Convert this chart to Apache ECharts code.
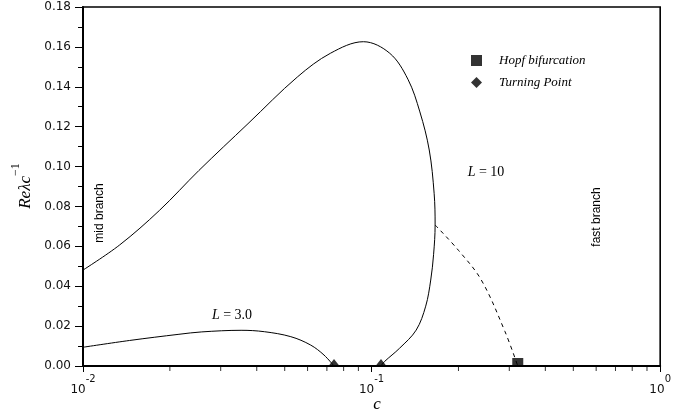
<!DOCTYPE html>
<html>
<head>
<meta charset="utf-8">
<script src="https://cdn.jsdelivr.net/npm/echarts@6/dist/echarts.min.js"></script>
<style>html,body{margin:0;padding:0;background:#fff}#c{width:674px;height:414px}</style>
</head>
<body>
<div id="c"></div>
<script>
// ---- data ----
const curveL10 = [[0.0100,0.0481],[0.0134,0.0607],[0.0184,0.0780],[0.0252,0.0980],[0.0373,0.1215],[0.0553,0.1449],[0.0720,0.1568],[0.0937,0.1626],[0.1156,0.1568],[0.1336,0.1438],[0.1470,0.1274],[0.1584,0.1083],[0.1647,0.0866],[0.1660,0.0707],[0.1640,0.0560],[0.1603,0.0431],[0.1540,0.0300],[0.1427,0.0180],[0.1250,0.0089],[0.1108,0.0022],[0.1078,0.0000]];
const curveL3 = [[0.0100,0.0094],[0.0145,0.0128],[0.0215,0.0159],[0.0258,0.0171],[0.0353,0.0179],[0.0425,0.0172],[0.0525,0.0147],[0.0615,0.0105],[0.0684,0.0055],[0.0741,0.0000]];
const dashedL10 = [[0.1660,0.0707],[0.2000,0.0580],[0.2400,0.0431],[0.2900,0.0172],[0.3210,0.0000]];
const hopfPoints = [[0.3210,0]];
const turningPoints = [[0.0741,0],[0.1078,0]];
const xMinorTicks = [0.02,0.03,0.04,0.05,0.06,0.07,0.08,0.09,0.2,0.3,0.4,0.5,0.6,0.7,0.8,0.9];
const yMin = 0, yMax = 0.18, yStep = 0.02;
const xMin = 0.01, xMax = 1;

const chart = echarts.init(document.getElementById('c'), null, {renderer:'canvas'});
const black = '#000';
const serif = '"Liberation Serif", "DejaVu Serif", serif';
const sans = '"DejaVu Sans", sans-serif';

chart.setOption({
  animation: false,
  backgroundColor: '#fff',
  grid: {left: 83, right: 7, top: 7, bottom: 48, show: true, borderColor: black, borderWidth: 1.6, containLabel: false},
  legend: {
    orient: 'vertical', left: 466, top: 49, itemWidth: 11, itemHeight: 11, itemGap: 9,
    data: [{name: 'Hopf bifurcation', icon: 'rect'}, {name: 'Turning Point', icon: 'diamond'}],
    textStyle: {fontFamily: serif, fontStyle: 'italic', fontSize: 13, color: black, padding: [0,0,0,12]}
  },
  xAxis: {
    type: 'log', logBase: 10, min: xMin, max: xMax,
    axisLine: {lineStyle: {color: black, width: 2}},
    axisTick: {show: true, length: 6, lineStyle: {color: black, width: 1}},
    splitLine: {show: false},
    axisLabel: {
      margin: 8, color: '#111',
      formatter: function (v) { return '{b|10}{s|' + Math.round(Math.log10(v)) + '}'; },
      rich: {
        b: {fontFamily: sans, fontSize: 12, lineHeight: 22, verticalAlign: 'bottom', color: '#111'},
        s: {fontFamily: sans, fontSize: 10, verticalAlign: 'top', color: '#111'}
      }
    }
  },
  yAxis: {
    type: 'value', min: yMin, max: yMax, interval: yStep,
    axisLine: {show: true, lineStyle: {color: black, width: 2}},
    axisTick: {show: true, length: 8, lineStyle: {color: black, width: 1}},
    minorTick: {show: true, splitNumber: 2, length: 5, lineStyle: {color: black, width: 1}},
    splitLine: {show: false},
    axisLabel: {margin: 12, fontFamily: sans, fontSize: 12, color: '#111', formatter: v => v.toFixed(2)}
  },
  series: [
    {type: 'line', name: 'L10', data: curveL10, showSymbol: false, smooth: 0.35, lineStyle: {color: black, width: 1}, silent: true},
    {type: 'line', name: 'L3', data: curveL3, showSymbol: false, smooth: 0.35, lineStyle: {color: black, width: 1}, silent: true},
    {type: 'line', name: 'L10dash', data: dashedL10, showSymbol: false, smooth: 0.35, lineStyle: {color: black, width: 1, type: [4,4]}, silent: true},
    {type: 'scatter', name: 'Hopf bifurcation', data: hopfPoints, symbol: 'rect', symbolSize: [11,8], symbolOffset: [0,-4], clip: false, itemStyle: {color: black}, z: 5},
    {type: 'scatter', name: 'Turning Point', data: turningPoints, symbol: 'triangle', symbolSize: [11,7], symbolOffset: [0,-3.5], clip: false, itemStyle: {color: black}, z: 5},
    {type: 'scatter', name: 'minor', data: xMinorTicks.map(v => [v, 0]), symbol: 'rect', symbolSize: [1,4], symbolOffset: [0,3], clip: false, itemStyle: {color: black}, silent: true, z: 6}
  ],
  graphic: [
    {type: 'text', x: 22, y: 186, rotation: Math.PI/2, style: {text: '{i|Reλc}{s|−1}', textAlign: 'center', textVerticalAlign: 'middle', rich: {i: {fontFamily: serif, fontStyle: 'italic', fontSize: 17, lineHeight: 24, verticalAlign: 'bottom', fill: black}, s: {fontFamily: serif, fontSize: 12, verticalAlign: 'top', fill: black}}}},
    {type: 'text', x: 377, y: 405, style: {text: 'c', font: 'italic 17px ' + serif, textAlign: 'center', textVerticalAlign: 'middle', fill: black}},
    {type: 'text', x: 100, y: 213, rotation: Math.PI/2, style: {text: 'mid branch', font: '12px "Liberation Sans", Arial, sans-serif', textAlign: 'center', textVerticalAlign: 'middle', fill: black}},
    {type: 'text', x: 597, y: 217, rotation: Math.PI/2, style: {text: 'fast branch', font: '12px "Liberation Sans", Arial, sans-serif', textAlign: 'center', textVerticalAlign: 'middle', fill: black}},
    {type: 'text', x: 486, y: 172, style: {text: '{i|L} = 10', textAlign: 'center', textVerticalAlign: 'middle', font: '14px ' + serif, fill: black, rich: {i: {fontFamily: serif, fontStyle: 'italic', fontSize: 14, fill: black}}}},
    {type: 'text', x: 232, y: 315, style: {text: '{i|L} = 3.0', textAlign: 'center', textVerticalAlign: 'middle', font: '14px ' + serif, fill: black, rich: {i: {fontFamily: serif, fontStyle: 'italic', fontSize: 14, fill: black}}}}
  ]
});
</script>
</body>
</html>
